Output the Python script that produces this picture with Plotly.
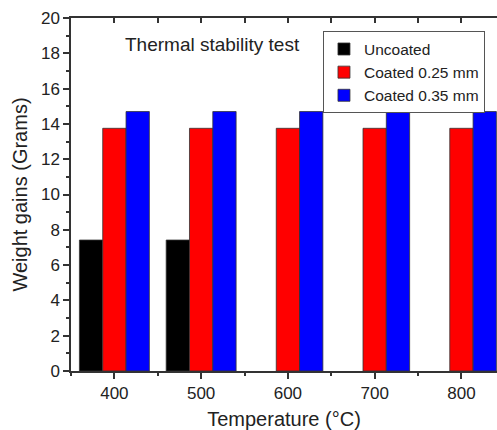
import plotly.graph_objects as go

temps = [400, 500, 600, 700, 800]
uncoated = [7.42, 7.42, None, None, None]
coated_025 = [13.75, 13.75, 13.75, 13.75, 13.75]
coated_035 = [14.7, 14.7, 14.7, 14.7, 14.7]
names = ["Uncoated", "Coated 0.25 mm", "Coated 0.35 mm"]
colors = ["#000000", "#ff0000", "#0000ff"]

FONT = "Liberation Sans, Arial, sans-serif"
AX = "#333333"

fig = go.Figure()
for name, vals, col in zip(names, [uncoated, coated_025, coated_035], colors):
    fig.add_trace(go.Bar(x=temps, y=vals, name=name, marker=dict(color=col, line=dict(color="#333333", width=0.8))))

# invisible trace to anchor the top axis
fig.add_trace(go.Scatter(x=[temps[0]], y=[None], xaxis="x2", showlegend=False, hoverinfo="skip"))

fig.update_layout(
    width=497, height=430,
    margin=dict(l=71, r=0, t=18, b=59),
    paper_bgcolor="white", plot_bgcolor="white",
    barmode="group", bargap=0.194, bargroupgap=0,
    font=dict(family=FONT, size=17, color="#222222"),
    xaxis=dict(range=[350, 841], tickmode="linear", tick0=400, dtick=100,
               ticks="outside", ticklen=6, tickwidth=1.5, tickcolor=AX,
               minor=dict(dtick=50, tick0=350, ticks="outside", ticklen=3, tickwidth=1.5, tickcolor=AX),
               showline=True, linecolor=AX, linewidth=1.5, showgrid=False, zeroline=False,
               tickfont=dict(size=17),
               title=dict(text="Temperature (°C)", font=dict(size=20), standoff=12)),
    xaxis2=dict(overlaying="x", side="top", range=[350, 841], tickmode="linear", tick0=400, dtick=50,
                ticks="inside", ticklen=5, tickwidth=1.5, tickcolor=AX, showticklabels=False,
                showline=True, linecolor=AX, linewidth=1.5, showgrid=False, zeroline=False),
    yaxis=dict(range=[0, 20], tickmode="linear", tick0=0, dtick=2,
               ticks="outside", ticklen=6, tickwidth=1.5, tickcolor=AX,
               minor=dict(dtick=1, ticks="outside", ticklen=3, tickwidth=1.5, tickcolor=AX),
               showline=True, linecolor=AX, linewidth=1.5, showgrid=False, zeroline=False,
               tickfont=dict(size=17),
               title=dict(text="Weight gains (Grams)", font=dict(size=20), standoff=8)),
    legend=dict(x=0.5915, y=0.962, xanchor="left", yanchor="top",
                bordercolor="#555555", borderwidth=1, bgcolor="white",
                font=dict(size=15.5), tracegroupgap=0, itemwidth=30),
    annotations=[dict(text="Thermal stability test", xref="paper", yref="paper",
                      x=0.122, y=0.926, xanchor="left", yanchor="middle",
                      showarrow=False, font=dict(size=19, color="#222222"))],
)

fig.write_html("out.html")
